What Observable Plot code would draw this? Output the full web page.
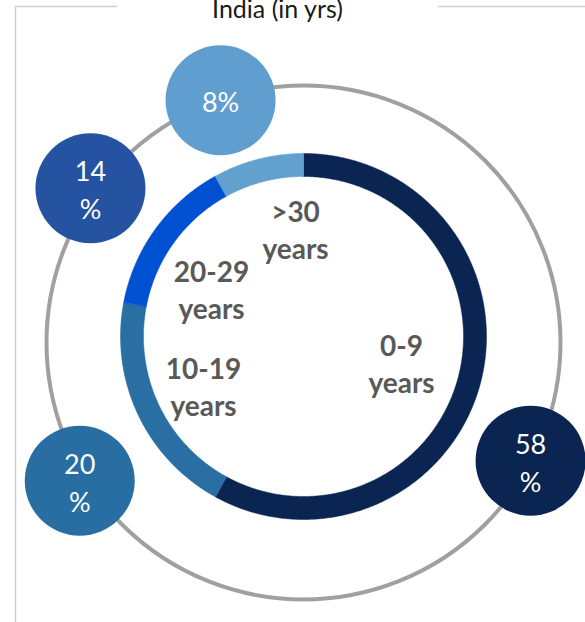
<!DOCTYPE html>
<html><head><meta charset="utf-8">
<script src="https://cdn.jsdelivr.net/npm/d3@7"></script>
<script src="https://cdn.jsdelivr.net/npm/@observablehq/plot@0.6"></script>
<style>html,body{margin:0;padding:0;background:#fff;overflow:hidden} svg{display:block}</style>
</head><body><div id="chart"></div>
<script>
// ---- data ----
const title = "India (in yrs)";
const categories = ["0-9 years", "10-19 years", "20-29 years", ">30 years"];
const labelText = ["0-9\nyears", "10-19\nyears", "20-29\nyears", ">30\nyears"];
const shares = [58, 20, 14, 8];
const bubbleText = ["58\n%", "20\n%", "14\n%", "8%"];

// ---- styles ----
const ringColors = ["#0b2553", "#2a6fa3", "#0050d2", "#62a0cd"];
const bubbleColors = ["#0b2553", "#286ea3", "#2653a1", "#5f9ecf"];
const FONT = "Lato, 'Open Sans', sans-serif";

// ---- layout (pixel geometry; donut centre is the origin) ----
const W = 585, H = 622, CX = 303, CY = 336;
const R_OUT = 183, R_IN = 160;
const RING = {cx: 0, cy: 6, r: 257};
const bubbleAngle = [117.5, 238.3, 305.9, 341.1];
const bubbleDist = [256, 263, 263, 256];
const BUBBLE_R = 55;
const labelOffset = [[98, 26], [-100, 49], [-92, -48], [-8, -108]];

// ---- derived geometry ----
const rad = a => a * Math.PI / 180;
const slices = [];
let acc = 0;
categories.forEach((c, i) => {
  const a0 = acc, a1 = acc + shares[i] / 100 * 360;
  acc = a1;
  const pts = [];
  const n = Math.max(2, Math.ceil((a1 - a0) / 0.5));
  for (let k = 0; k <= n; k++) {
    const a = rad(a0 + (a1 - a0) * k / n);
    pts.push({x: R_OUT * Math.sin(a), y: -R_OUT * Math.cos(a)});
  }
  for (let k = n; k >= 0; k--) {
    const a = rad(a0 + (a1 - a0) * k / n);
    pts.push({x: R_IN * Math.sin(a), y: -R_IN * Math.cos(a)});
  }
  slices.push({category: c, color: ringColors[i], pts});
});

const bubbles = categories.map((c, i) => ({
  category: c,
  text: bubbleText[i],
  color: bubbleColors[i],
  x: RING.cx + bubbleDist[i] * Math.sin(rad(bubbleAngle[i])),
  y: RING.cy - bubbleDist[i] * Math.cos(rad(bubbleAngle[i]))
}));

const labels = categories.map((c, i) => ({
  text: labelText[i], x: labelOffset[i][0], y: labelOffset[i][1]
}));

const chart = Plot.plot({
  width: W, height: H, margin: 0,
  style: {fontFamily: FONT, background: "#fff", overflow: "visible"},
  x: {domain: [-CX, W - CX], range: [0, W], axis: null},
  y: {domain: [-CY, H - CY], range: [0, H], axis: null},
  color: {type: "identity"},
  marks: [
    // chart frame
    Plot.ruleX([15 - CX], {y1: 6 - CY, y2: H - CY, stroke: "#d0d0d0", strokeWidth: 1.5}),
    Plot.ruleY([6 - CY], {x1: 15 - CX, x2: 117 - CX, stroke: "#d0d0d0", strokeWidth: 1.5}),
    Plot.ruleY([6 - CY], {x1: 438 - CX, x2: W - CX, stroke: "#d0d0d0", strokeWidth: 1.5}),
    Plot.text([title], {x: 277 - CX, y: 9 - CY, text: d => d, fontSize: 25, fill: "#1a1a1a", fontFamily: FONT}),
    // outer grey ring
    Plot.dot([RING], {x: "cx", y: "cy", r: RING.r, stroke: "#a0a0a0", strokeWidth: 4, fill: "none"}),
    // donut slices
    ...slices.map(s => Plot.line(s.pts, {x: "x", y: "y", fill: s.color, stroke: s.color, strokeWidth: 0.5, curve: "linear-closed"})),
    // category labels
    Plot.text(labels, {x: "x", y: "y", text: "text", fontSize: 28, fontWeight: "bold", fill: "#595959", lineHeight: 1.35, fontFamily: FONT}),
    // bubbles
    Plot.dot(bubbles, {x: "x", y: "y", r: BUBBLE_R, fill: "color", stroke: "none"}),
    Plot.text(bubbles, {x: "x", y: "y", text: "text", fontSize: 27, fill: "#ffffff", lineHeight: 1.4, fontFamily: FONT})
  ]
});
document.getElementById("chart").appendChild(chart);
</script>
</body></html>
